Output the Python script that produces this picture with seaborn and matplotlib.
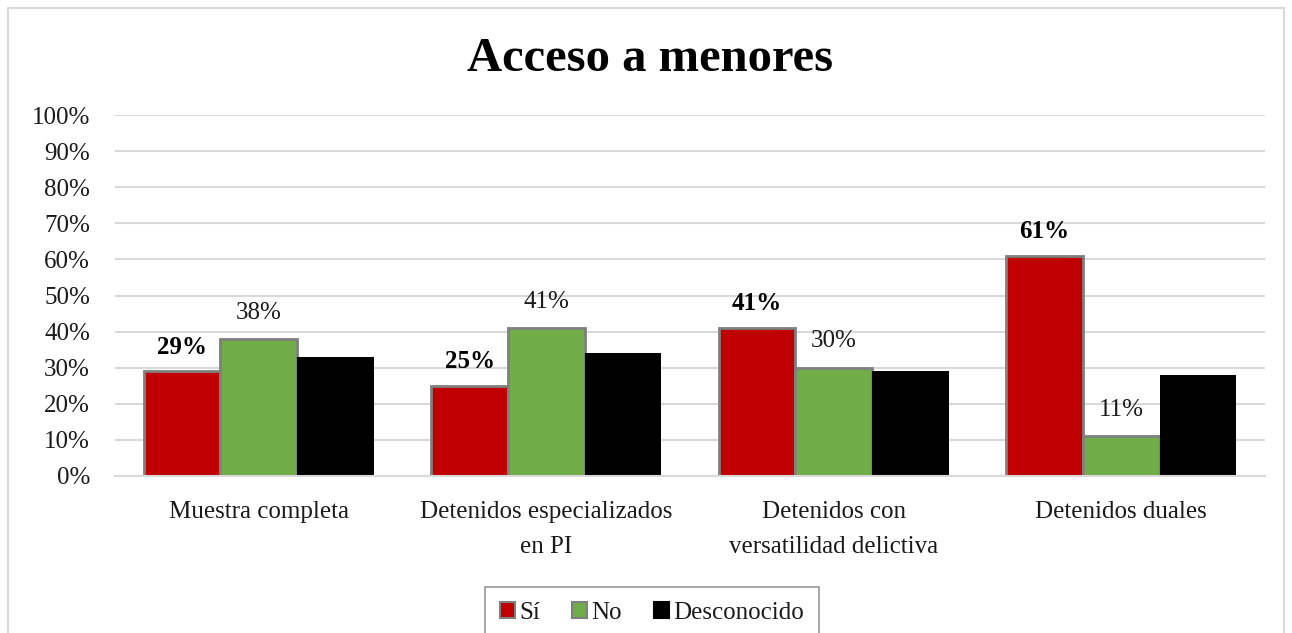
import matplotlib
matplotlib.use("Agg")
import matplotlib.pyplot as plt
import matplotlib.patches as mpatches
import numpy as np
import pandas as pd
import seaborn as sns

# chart data
categories = [
    "Muestra completa",
    "Detenidos especializados\nen PI",
    "Detenidos con\nversatilidad delictiva",
    "Detenidos duales",
]
series_names = ["Sí", "No", "Desconocido"]
si_values = [29, 25, 41, 61]
no_values = [38, 41, 30, 11]
desconocido_values = [33, 34, 29, 28]
y_ticks = [0, 10, 20, 30, 40, 50, 60, 70, 80, 90, 100]
title = "Acceso a menores"

colors = {"Sí": "#C00000", "No": "#70AD47", "Desconocido": "#000000"}
text_color = "#1a1a1a"
fs = 18

df = pd.DataFrame({
    "categoria": categories * 3,
    "serie": ["Sí"] * 4 + ["No"] * 4 + ["Desconocido"] * 4,
    "valor": si_values + no_values + desconocido_values,
})

sns.set_theme(style="white")
plt.rcParams["font.family"] = ["Liberation Serif", "DejaVu Serif"]

fig = plt.figure(figsize=(12.92, 6.33), dpi=100)
ax = fig.add_axes([115 / 1292, 1 - 476 / 633, 1150 / 1292, 361 / 633])

sns.barplot(
    data=df,
    x="categoria",
    y="valor",
    hue="serie",
    hue_order=series_names,
    order=categories,
    palette=colors,
    width=0.8,
    saturation=1,
    ax=ax,
    legend=False,
)

# edges: grey outline on Sí and No bars
for name, cont in zip(series_names, ax.containers):
    for bar in cont:
        if name == "Desconocido":
            bar.set_linewidth(0)
        else:
            bar.set_edgecolor("#7F7F7F")
            bar.set_linewidth(2)

# data labels
ax.bar_label(ax.containers[0], labels=[f"{v}%" for v in si_values],
             padding=9, fontsize=fs, fontweight="bold", color="#000000")
ax.bar_label(ax.containers[1], labels=[f"{v}%" for v in no_values],
             padding=11, fontsize=fs, color=text_color)

ax.set_ylim(0, 100)
ax.set_xlim(-0.5, len(categories) - 0.5)
ax.set_yticks(y_ticks)
ax.set_yticklabels([f"{t}%" for t in y_ticks])
ax.yaxis.grid(True, color="#D9D9D9", linewidth=1.5)
ax.set_axisbelow(True)
for side in ["top", "right", "left"]:
    ax.spines[side].set_visible(False)
ax.spines["bottom"].set_color("#D9D9D9")
ax.spines["bottom"].set_linewidth(1.5)
ax.tick_params(axis="y", length=0, pad=18, labelsize=fs, labelcolor=text_color)
ax.tick_params(axis="x", length=0, pad=18, labelsize=fs, labelcolor=text_color)
for lbl in ax.get_xticklabels():
    lbl.set_linespacing(1.75)
ax.set_xlabel("")
ax.set_ylabel("")

fig.text(650 / 1292, 1 - 59 / 633, title, ha="center", va="center",
         fontsize=35, fontweight="bold", color="#000000")

# legend, box running past the bottom edge like the reference
handles = [mpatches.Patch(facecolor=colors[n],
                          edgecolor="#7F7F7F" if n != "Desconocido" else "#000000",
                          linewidth=1.5, label=n) for n in series_names]
leg = fig.legend(
    handles=handles,
    loc="upper center",
    bbox_to_anchor=(652 / 1292, 1 - 587 / 633),
    ncol=3,
    fontsize=fs,
    frameon=True,
    fancybox=False,
    handlelength=0.6,
    handleheight=0.6,
    handletextpad=0.15,
    columnspacing=1.3,
    borderpad=0.6,
    borderaxespad=0,
)
leg.get_frame().set_edgecolor("#7F7F7F")
leg.get_frame().set_linewidth(1.2)
for t in leg.get_texts():
    t.set_color(text_color)

# outer chart frame
fig.patches.append(mpatches.Rectangle(
    (8 / 1292, -0.05), 1276 / 1292, 1 - 8 / 633 + 0.05,
    transform=fig.transFigure, fill=False, edgecolor="#D9D9D9", linewidth=1.5,
))

fig.savefig("out.png", dpi=100)
